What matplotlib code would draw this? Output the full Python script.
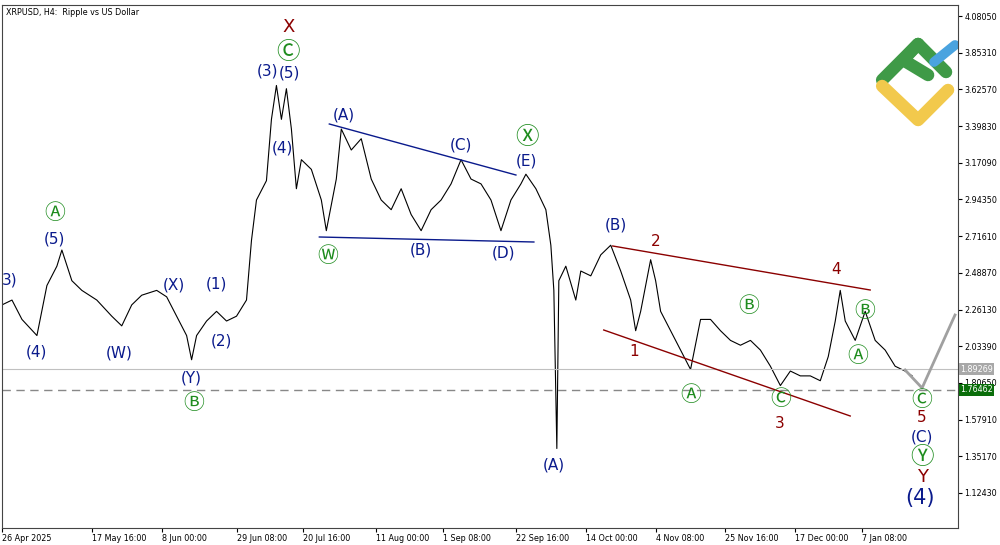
import matplotlib
matplotlib.use('Agg')
import matplotlib.pyplot as plt

plt.rcParams['font.family'] = ['DejaVu Sans', 'Noto Sans CJK SC']

# price path (bar position, price)
bars = [0, 10, 20, 35, 45, 55, 60, 70, 80, 95, 110, 120, 130, 140, 155, 165, 175, 185, 190, 195,
        205, 215, 225, 235, 245, 250, 255, 265, 270, 275, 280, 285, 290, 295, 300, 310, 320, 325,
        335, 340, 350, 360, 370, 380, 390, 400, 410, 420, 430, 440, 450, 460, 470, 480, 490, 500,
        510, 520, 525, 535, 545, 550, 553, 556, 558, 565, 575, 580, 590, 600, 610, 620, 630, 635,
        640, 650, 655, 660, 670, 680, 690, 700, 710, 720, 730, 740, 750, 760, 770, 780, 790, 800,
        810, 820, 828, 835, 840, 845, 855, 865, 875, 885, 895, 905, 912]
prices = [2.29, 2.32, 2.20, 2.10, 2.41, 2.53, 2.63, 2.44, 2.38, 2.32, 2.22, 2.16, 2.29, 2.35,
          2.38, 2.34, 2.22, 2.10, 1.95, 2.10, 2.19, 2.25, 2.19, 2.22, 2.32, 2.69, 2.94, 3.06,
          3.44, 3.65, 3.44, 3.63, 3.38, 3.01, 3.19, 3.13, 2.94, 2.75, 3.07, 3.38, 3.25, 3.32,
          3.07, 2.94, 2.88, 3.01, 2.85, 2.75, 2.88, 2.94, 3.04, 3.19, 3.07, 3.04, 2.94, 2.75,
          2.94, 3.04, 3.10, 3.01, 2.88, 2.66, 2.38, 1.40, 2.44, 2.53, 2.32, 2.50, 2.47, 2.60,
          2.66, 2.50, 2.32, 2.13, 2.25, 2.57, 2.44, 2.25, 2.13, 2.01, 1.89, 2.20, 2.20, 2.13,
          2.07, 2.04, 2.07, 2.01, 1.91, 1.79, 1.88, 1.85, 1.85, 1.82, 1.97, 2.19, 2.38, 2.19,
          2.07, 2.25, 2.07, 2.01, 1.91, 1.88, 1.85]

price_ticks = [4.08050, 3.85310, 3.62570, 3.39830, 3.17090, 2.94350, 2.71610, 2.48870,
               2.26130, 2.03390, 1.80650, 1.57910, 1.35170, 1.12430]
date_pos = [0, 90, 160, 235, 302, 375, 442, 515, 585, 655, 725, 795, 862]
date_labels = ['26 Apr 2025', '17 May 16:00', '8 Jun 00:00', '29 Jun 08:00', '20 Jul 16:00',
               '11 Aug 00:00', '1 Sep 08:00', '22 Sep 16:00', '14 Oct 00:00', '4 Nov 08:00',
               '25 Nov 16:00', '17 Dec 00:00', '7 Jan 08:00']
bid = 1.89269
level = 1.76462

NAVY = '#0a1a8c'
GREEN = '#1e8c1e'
RED = '#8b0000'


def py(y):
    # pixel row -> price
    return 4.0805 - (y - 16) / 161.35


fig = plt.figure(figsize=(10, 5.45), dpi=100)
ax = fig.add_axes([0.002, 17 / 545, 0.956, 1 - 22 / 545])
ax.set_xlim(0, 958)
ax.set_ylim(py(528), py(5))
ax.plot(bars, prices, color='black', lw=0.8)

ax.yaxis.tick_right()
ax.set_yticks(price_ticks)
ax.set_yticklabels([f'{v:.5f}' for v in price_ticks], fontsize=5.8)
ax.set_xticks(date_pos)
ax.set_xticklabels(date_labels, fontsize=5.8, ha='left')
ax.tick_params(length=3, pad=1.5)
for s in ax.spines.values():
    s.set_color('#444444')

# levels
ax.axhline(bid, color='#c0c0c0', lw=0.8)
ax.axhline(level, color='#888888', lw=1, ls=(0, (6, 4)))
ax.text(1.002, bid, f'{bid:.5f}', transform=ax.get_yaxis_transform(), fontsize=5.8,
        color='white', va='center', bbox=dict(fc='#a8a8a8', ec='none', pad=1))
ax.text(1.002, level, f'{level:.5f}', transform=ax.get_yaxis_transform(), fontsize=5.8,
        color='white', va='center', bbox=dict(fc='#0a6e0a', ec='none', pad=1))

# channel lines
ax.plot([328, 515], [py(124), py(175)], color=NAVY, lw=1)
ax.plot([318, 533], [py(237), py(242)], color=NAVY, lw=1)
ax.plot([612, 870], [py(246), py(290)], color=RED, lw=1)
ax.plot([603, 850], [py(330), py(416)], color=RED, lw=1)
ax.plot([905, 922, 955], [py(370), py(388), py(315)], color='#a0a0a0', lw=2)

labels = [
    ('3)', 8, 280, NAVY, 11), ('(4)', 35, 352, NAVY, 11), ('Ⓐ', 53, 213, GREEN, 15),
    ('(5)', 53, 239, NAVY, 11), ('(W)', 117, 353, NAVY, 11), ('(X)', 172, 285, NAVY, 11),
    ('(1)', 215, 284, NAVY, 11), ('(2)', 220, 341, NAVY, 11), ('(Y)', 190, 378, NAVY, 11),
    ('Ⓑ', 192, 403, GREEN, 15), ('X', 287, 27, RED, 13), ('Ⓒ', 287, 52, GREEN, 17),
    ('(3)', 266, 71, NAVY, 11), ('(5)', 288, 73, NAVY, 11), ('(4)', 281, 148, NAVY, 11),
    ('(A)', 343, 115, NAVY, 11), ('Ⓦ', 326, 256, GREEN, 15), ('(B)', 420, 250, NAVY, 11),
    ('(C)', 460, 145, NAVY, 11), ('Ⓧ', 526, 137, GREEN, 17), ('(E)', 526, 161, NAVY, 11),
    ('(D)', 503, 253, NAVY, 11), ('(A)', 553, 465, NAVY, 11), ('(B)', 615, 225, NAVY, 11),
    ('2', 655, 242, RED, 11), ('1', 633, 352, RED, 11), ('Ⓐ', 690, 395, GREEN, 15),
    ('Ⓑ', 748, 306, GREEN, 15), ('3', 779, 423, RED, 11), ('Ⓒ', 780, 399, GREEN, 15),
    ('4', 836, 270, RED, 11), ('Ⓑ', 865, 311, GREEN, 15), ('Ⓐ', 858, 356, GREEN, 15),
    ('Ⓒ', 922, 400, GREEN, 15), ('5', 922, 418, RED, 11), ('(C)', 922, 437, NAVY, 11),
    ('Ⓨ', 922, 457, GREEN, 17), ('Y', 922, 477, RED, 13), ('(4)', 920, 498, NAVY, 15),
]
for t, x, y, c, fs in labels:
    ax.text(x, py(y), t, color=c, fontsize=fs, ha='center', va='center')

ax.text(0.004, 0.995, 'XRPUSD, H4:  Ripple vs US Dollar', transform=ax.transAxes,
        fontsize=5.8, va='top')

# logo
ax.plot([882, 918, 946], [py(80), py(44), py(72)], color='#3f9a47', lw=9, solid_capstyle='round')
ax.plot([918, 903, 928], [py(44), py(60), py(75)], color='#3f9a47', lw=9, solid_capstyle='round')
ax.plot([934, 955], [py(62), py(45)], color='#4aa3df', lw=7, solid_capstyle='round')
ax.plot([882, 918, 948], [py(86), py(120), py(90)], color='#f2c94c', lw=9, solid_capstyle='round')

plt.savefig('out.png')
